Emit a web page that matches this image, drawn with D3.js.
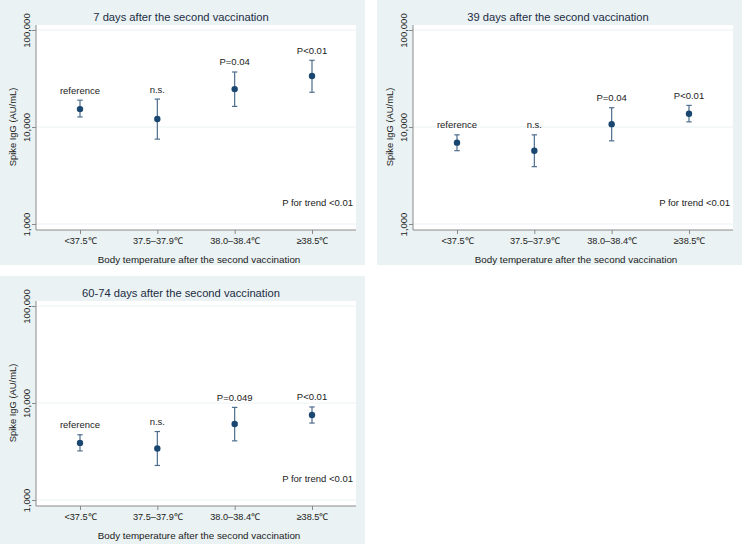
<!DOCTYPE html>
<html>
<head>
<meta charset="utf-8">
<script src="https://cdn.jsdelivr.net/npm/d3@7"></script>
<style>
  body { margin: 0; background: #ffffff; }
  svg { display: block; font-family: "Liberation Sans", Arial, sans-serif; }
</style>
</head>
<body>
<svg id="chart" width="743" height="544"></svg>
<script>
// Categories and axis ticks shared by all three panels
const categories = ["<37.5\u2103", "37.5\u201337.9\u2103", "38.0\u201338.4\u2103", "\u226538.5\u2103"];
const yTicks = [1000, 10000, 100000];

// 7 days after the second vaccination
const gmt7 = [15300, 12100, 24600, 33600];
const lower7 = [12700, 7500, 16300, 22800];
const upper7 = [18900, 19400, 36900, 48700];
const labels7 = ["reference", "n.s.", "P=0.04", "P<0.01"];

// 39 days after the second vaccination
const gmt39 = [6900, 5700, 10700, 13700];
const lower39 = [5700, 3900, 7200, 11300];
const upper39 = [8300, 8300, 15800, 16700];
const labels39 = ["reference", "n.s.", "P=0.04", "P<0.01"];

// 60-74 days after the second vaccination
const gmt60 = [3880, 3400, 6070, 7520];
const lower60 = [3210, 2270, 4070, 6210];
const upper60 = [4700, 5080, 9010, 9100];
const labels60 = ["reference", "n.s.", "P=0.049", "P<0.01"];

const BG = "#eaf2f3";
const MARKER = "#1a476f";
const BAR = "#4d6d8c";
const TEXT = "#222222";

let svg = d3.select("#chart");

makePanel(0, 0, 365, 265, "7 days after the second vaccination", gmt7, lower7, upper7, labels7);
makePanel(377, 0, 365, 265, "39 days after the second vaccination", gmt39, lower39, upper39, labels39);
makePanel(0, 276, 365, 268, "60-74 days after the second vaccination", gmt60, lower60, upper60, labels60);

function makePanel(left, top, width, height, title, gmt, lower, upper, labels) {
  let g = svg.append("g").attr("transform", `translate(${left},${top})`);

  // panel background and white plot region
  g.append("rect").attr("width", width).attr("height", height).attr("fill", BG);
  let plot = {x0: 36, x1: 356, y0: 25, y1: 230};
  g.append("rect")
    .attr("x", plot.x0).attr("y", plot.y0)
    .attr("width", plot.x1 - plot.x0).attr("height", plot.y1 - plot.y0)
    .attr("fill", "#ffffff");

  let x = d3.scalePoint().domain(categories).range([80, 312]);
  let y = d3.scaleLog().domain([1000, 100000]).range([224, 30]);

  // grid lines
  g.selectAll("line.grid").data(yTicks).enter()
    .append("line").attr("class", "grid")
    .attr("x1", plot.x0).attr("x2", plot.x1)
    .attr("y1", d => y(d)).attr("y2", d => y(d))
    .attr("stroke", BG).attr("stroke-width", 1);

  // y axis
  let yAxis = d3.axisLeft(y).tickValues(yTicks).tickSize(4).tickFormat(d3.format(","));
  let ya = g.append("g").attr("transform", `translate(${plot.x0},0)`).call(yAxis);
  ya.select(".domain").attr("d", `M0,${plot.y0}V${plot.y1}`).attr("stroke", "#8a8a8a");
  ya.selectAll(".tick line").attr("stroke", "#8a8a8a");
  ya.selectAll(".tick text")
    .attr("x", null).attr("dy", null)
    .attr("transform", "translate(-6,0) rotate(-90)")
    .attr("text-anchor", "middle")
    .attr("font-size", 9.5).attr("fill", TEXT);

  // x axis
  let xAxis = d3.axisBottom(x).tickSize(4).tickPadding(3);
  let xa = g.append("g").attr("transform", `translate(0,${plot.y1})`).call(xAxis);
  xa.select(".domain").attr("d", `M${plot.x0},0H${plot.x1}`).attr("stroke", "#8a8a8a");
  xa.selectAll(".tick line").attr("stroke", "#8a8a8a");
  xa.selectAll(".tick text").attr("font-size", 9.2).attr("fill", TEXT);
  xa.selectAll("text").attr("font-family", null);
  ya.selectAll("text").attr("font-family", null);
  xa.attr("font-family", null);
  ya.attr("font-family", null);

  // titles
  g.append("text").text(title)
    .attr("x", 181).attr("y", 21)
    .attr("text-anchor", "middle").attr("font-size", 11.2).attr("fill", "#1c2c44");
  g.append("text").text("Body temperature after the second vaccination")
    .attr("x", 199).attr("y", 262.5)
    .attr("text-anchor", "middle").attr("font-size", 9.8).attr("fill", TEXT);
  g.append("text").text("Spike IgG (AU/mL)")
    .attr("transform", "translate(15.5,127) rotate(-90)")
    .attr("text-anchor", "middle").attr("font-size", 9.4).attr("fill", TEXT);

  let rows = categories.map((c, i) => ({cat: c, gmt: gmt[i], lo: lower[i], hi: upper[i], label: labels[i]}));

  // confidence interval caps
  let bars = g.selectAll("g.ci").data(rows).enter().append("g").attr("class", "ci");
  bars.append("line")
    .attr("x1", d => x(d.cat)).attr("x2", d => x(d.cat))
    .attr("y1", d => y(d.lo)).attr("y2", d => y(d.hi))
    .attr("stroke", BAR).attr("stroke-width", 1.2);
  bars.append("line")
    .attr("x1", d => x(d.cat) - 2.7).attr("x2", d => x(d.cat) + 2.7)
    .attr("y1", d => y(d.lo)).attr("y2", d => y(d.lo))
    .attr("stroke", BAR).attr("stroke-width", 1.2);
  bars.append("line")
    .attr("x1", d => x(d.cat) - 2.7).attr("x2", d => x(d.cat) + 2.7)
    .attr("y1", d => y(d.hi)).attr("y2", d => y(d.hi))
    .attr("stroke", BAR).attr("stroke-width", 1.2);
  bars.append("circle")
    .attr("cx", d => x(d.cat)).attr("cy", d => y(d.gmt)).attr("r", 3.2)
    .attr("fill", MARKER);
  bars.append("text").text(d => d.label)
    .attr("x", d => x(d.cat)).attr("y", d => y(d.hi) - 6.5)
    .attr("text-anchor", "middle").attr("font-size", 9.5).attr("fill", TEXT);

  g.append("text").text("P for trend <0.01")
    .attr("x", 353).attr("y", 205.5)
    .attr("text-anchor", "end").attr("font-size", 9.5).attr("fill", TEXT);
}
</script>
</body>
</html>
